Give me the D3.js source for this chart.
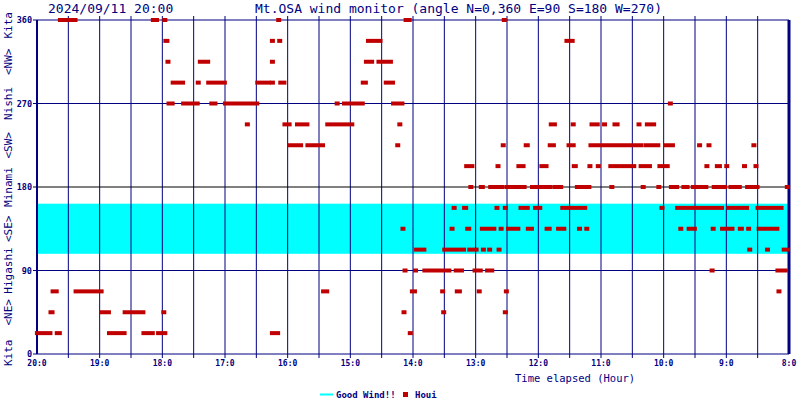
<!DOCTYPE html>
<html><head><meta charset="utf-8">
<script src="https://cdn.jsdelivr.net/npm/d3@7"></script>
<style>body{margin:0;background:#fff}</style></head>
<body><svg id="c" width="800" height="400"></svg>
<script>
// time axis: minutes elapsed since 20:00 (left) to 8:00 (right)
const hourLabels = ["20:0","19:0","18:0","17:0","16:0","15:0","14:0","13:0","12:0","11:0","10:0","9:0","8:0"];
const angleTicks = [0, 90, 180, 270, 360];
const dirNames = ["Kita","<NE>","Higashi","<SE>","Minami","<SW>","Nishi","<NW>","Kita"];
const goodWind = [108, 162];
// wind direction runs: [startMinute, endMinute] per angle
const a360 = [[20,34],[109,112],[120,120],[229,229],[351,354],[445,445]];
const a337 = [[121,122],[223,223],[230,230],[315,326],[505,510]];
const a315 = [[123,123],[154,161],[223,223],[313,318],[325,336]];
const a292 = [[128,137],[152,152],[162,177],[209,219],[223,223],[231,234],[310,312],[332,338]];
const a270 = [[124,127],[138,151],[165,168],[178,208],[285,285],[292,309],[339,347],[604,604]];
const a247 = [[199,199],[235,239],[247,256],[276,299],[345,345],[490,493],[511,511],[529,534],[541,541],[551,553],[574,574],[582,588]];
const a225 = [[240,250],[257,271],[343,343],[444,444],[466,467],[489,492],[507,511],[528,576],[581,592],[600,606],[632,632],[641,641],[684,684]];
const a202 = [[409,414],[439,439],[459,463],[481,485],[512,513],[527,527],[535,535],[547,569],[576,584],[594,601],[639,639],[649,651],[658,658],[675,675],[686,686]];
const a180 = [[413,413],[423,424],[432,443],[448,464],[472,489],[494,499],[515,526],[548,548],[578,578],[593,593],[605,610],[617,620],[626,638],[646,656],[662,670],[678,687],[716,716]];
const a157 = [[397,397],[407,408],[438,438],[446,446],[461,467],[475,479],[501,522],[596,596],[611,653],[660,677],[688,710]];
const a135 = [[348,348],[395,395],[410,411],[424,435],[442,442],[449,458],[468,471],[486,488],[497,502],[517,517],[524,524],[614,614],[622,627],[645,645],[654,663],[671,672],[679,679],[689,706]];
const a112 = [[361,368],[388,406],[412,418],[425,425],[431,431],[440,440],[680,680],[697,697],[713,716]];
const a90 = [[350,350],[360,360],[369,392],[399,404],[417,422],[429,433],[644,644],[707,714]];
const a67 = [[13,16],[35,59],[272,275],[357,359],[386,386],[400,402],[421,421],[447,447],[708,708]];
const a45 = [[11,12],[60,66],[82,99],[119,119],[349,349],[387,387],[446,446]];
const a22 = [[-2,10],[17,19],[67,81],[100,108],[114,120],[223,228],[355,355]];
const series = [[360,a360],[337.5,a337],[315,a315],[292.5,a292],[270,a270],[247.5,a247],[225,a225],[202.5,a202],[180,a180],[157.5,a157],[135,a135],[112.5,a112],[90,a90],[67.5,a67],[45,a45],[22.5,a22]];

const NAVY="#000080", RED="#c00000";
const svg=d3.select("#c");
const L=37,R=789,T=20,B=354;
const x=d3.scaleLinear().domain([0,720]).range([L,R]);
const y=d3.scaleLinear().domain([0,360]).range([B,T]);

svg.append("rect").attr("x",L).attr("width",R-L).attr("y",y(goodWind[1])).attr("height",y(goodWind[0])-y(goodWind[1])).attr("fill","#00ffff");

const halfs=d3.range(30,720,30);
svg.selectAll(".vg").data(halfs).join("line").attr("x1",d=>x(d)).attr("x2",d=>x(d)).attr("y1",T-4).attr("y2",B+4).attr("stroke",NAVY).attr("stroke-width",1);
svg.selectAll(".hg").data(angleTicks).join("line").attr("x1",L-4).attr("x2",R).attr("y1",d=>y(d)).attr("y2",d=>y(d))
  .attr("stroke",d=>d===180?"#000":NAVY).attr("stroke-width",1);
svg.append("line").attr("x1",L).attr("x2",L).attr("y1",T).attr("y2",B).attr("stroke",NAVY).attr("stroke-width",2);
svg.append("line").attr("x1",R).attr("x2",R).attr("y1",T).attr("y2",B).attr("stroke",NAVY).attr("stroke-width",3);

series.forEach(([ang,runs])=>{
  svg.append("g").selectAll("rect").data(runs).join("rect")
    .attr("x",d=>x(d[0])).attr("width",d=>x(d[1])-x(d[0])+5)
    .attr("y",y(ang)-2).attr("height",4).attr("fill",RED);
});

const mono="'DejaVu Sans Mono', monospace";
svg.selectAll(".yl").data(angleTicks).join("text").attr("x",32).attr("y",d=>y(d)+3).attr("text-anchor","end")
  .attr("font-family",mono).attr("font-size",8.5).attr("font-weight","bold").attr("fill",NAVY).text(d=>d);
svg.selectAll(".xl").data(hourLabels).join("text").attr("x",(d,i)=>x(i*60)).attr("y",366).attr("text-anchor","middle")
  .attr("font-family",mono).attr("font-size",8).attr("font-weight","bold").attr("fill",NAVY).text(d=>d);
dirNames.forEach((n,i)=>{
  let yy=y(i*45), anchor="middle";
  if(i===0){anchor="start"; yy=366;} if(i===8){anchor="end"; yy=12;}
  svg.append("text").attr("transform",`translate(12,${yy}) rotate(-90)`).attr("text-anchor",anchor)
    .attr("font-family",mono).attr("font-size",11).attr("fill",NAVY).text(n);
});
svg.append("text").attr("x",48).attr("y",13).attr("font-family",mono).attr("font-size",13).attr("fill",NAVY).text("2024/09/11 20:00");
svg.append("text").attr("x",255).attr("y",13).attr("font-family",mono).attr("font-size",13).attr("fill",NAVY).text("Mt.OSA wind monitor (angle N=0,360 E=90 S=180 W=270)");
svg.append("text").attr("x",515).attr("y",382).attr("font-family",mono).attr("font-size",10.5).attr("fill",NAVY).text("Time elapsed (Hour)");
svg.append("line").attr("x1",320).attr("x2",333).attr("y1",394.5).attr("y2",394.5).attr("stroke","#00ffff").attr("stroke-width",2);
svg.append("text").attr("x",336).attr("y",398).attr("font-family",mono).attr("font-size",9).attr("font-weight","bold").attr("fill",NAVY).text("Good Wind!!");
svg.append("rect").attr("x",403).attr("y",392).attr("width",5).attr("height",5).attr("fill",RED);
svg.append("text").attr("x",415).attr("y",398).attr("font-family",mono).attr("font-size",9).attr("font-weight","bold").attr("fill",NAVY).text("Houi");
</script></body></html>
